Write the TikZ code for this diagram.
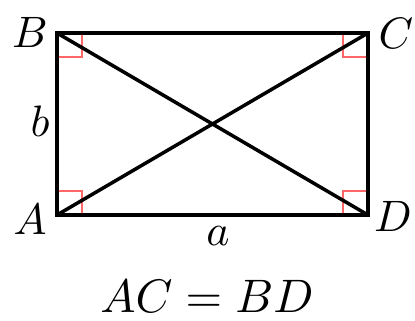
\documentclass[tikz,border=0pt]{standalone}
\usepackage{graphicx}
\begin{document}
\begin{tikzpicture}[x=1pt,y=-1pt,
  side/.style={line width=4pt,line cap=rect},
  diag/.style={line width=3.5pt},
  rmark/.style={draw=red!60,line width=2pt},
  lbl/.style={inner sep=0pt}]
\newcommand{\bigtxt}[1]{\scalebox{4.4}{#1}}
\useasboundingbox (0,0) rectangle (415,321);
\coordinate (A) at (57,215);
\coordinate (B) at (57,33);
\coordinate (C) at (368,33);
\coordinate (D) at (368,215);
% right angle marks
\draw[rmark] (57,57) -- (82,57) -- (82,33);
\draw[rmark] (343,33) -- (343,57) -- (368,57);
\draw[rmark] (57,191) -- (82,191) -- (82,215);
\draw[rmark] (343,215) -- (343,191) -- (368,191);
\draw[side] (A) -- (B) -- (C) -- (D) -- cycle;
\draw[diag] (A) -- (C);
\draw[diag] (B) -- (D);
\node[lbl] (lB) at (30,32) {\bigtxt{$B$}};
\node[lbl] (lC) at (396,33) {\bigtxt{$C$}};
\node[lbl] (lA) at (30,219) {\bigtxt{$A$}};
\node[lbl] (lD) at (393,216) {\bigtxt{$D$}};
\node[lbl] (lb) at (40,121) {\bigtxt{$b$}};
\node[lbl] (la) at (218,236) {\bigtxt{$a$}};
\node[lbl] (eq) at (207,296) {\scalebox{4.7}{$AC=BD$}};
\end{tikzpicture}
\end{document}
